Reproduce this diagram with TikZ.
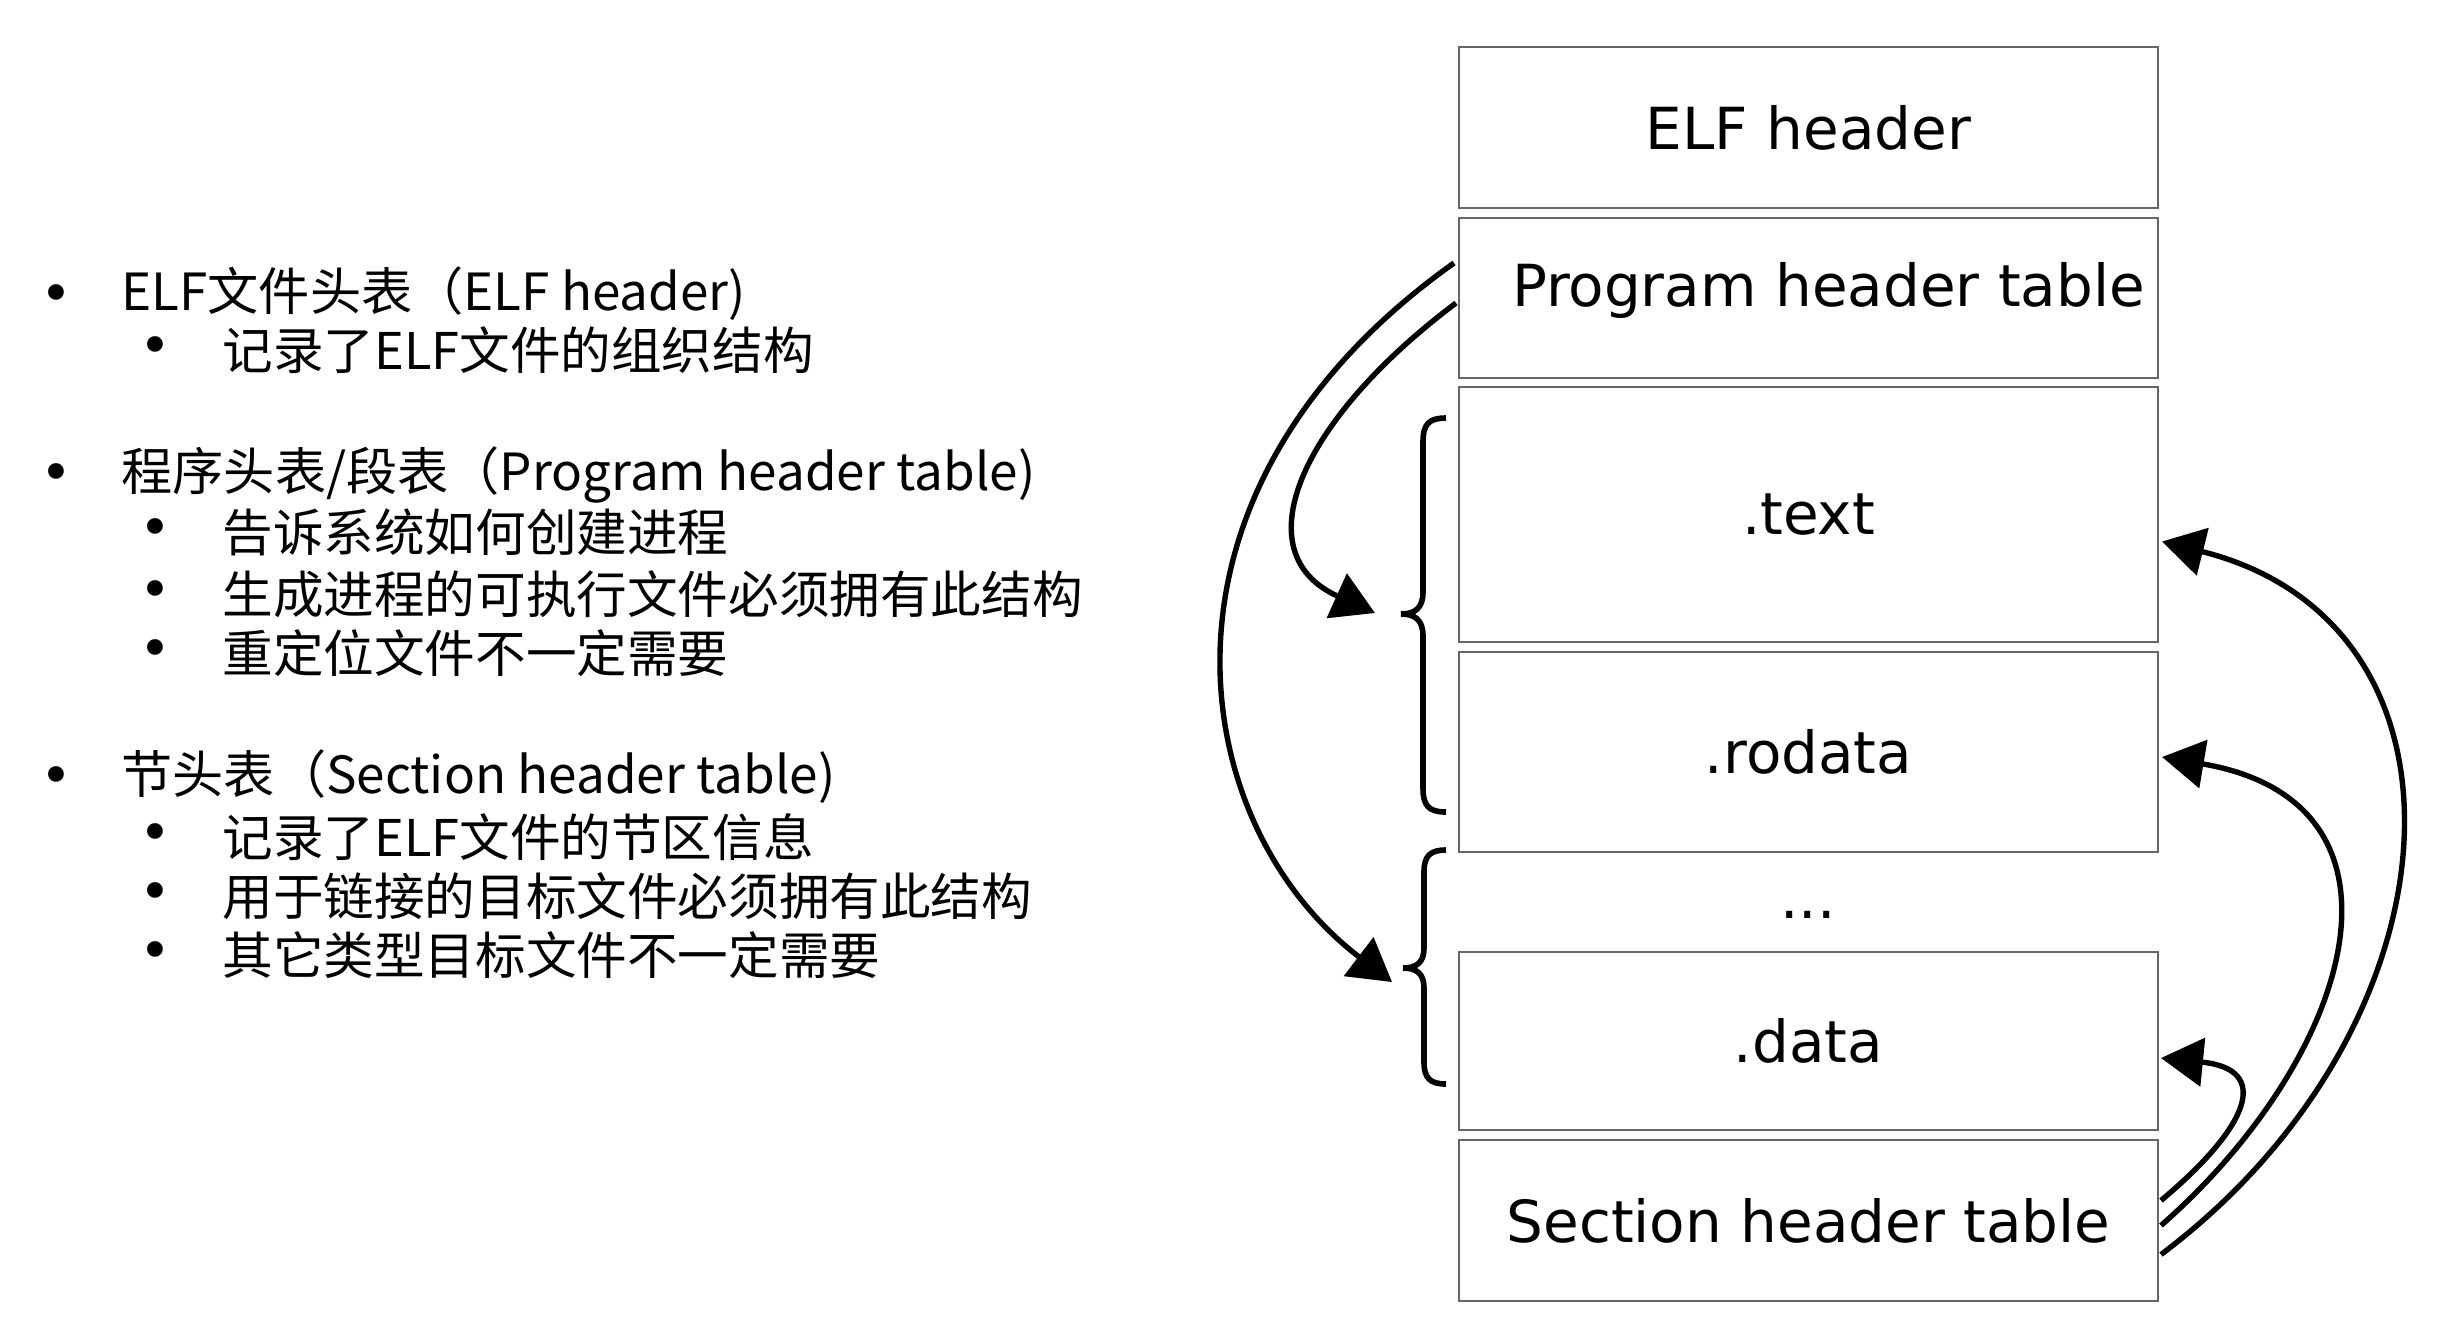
\documentclass[tikz,border=0pt]{standalone}
\usepackage{fontspec}
\newfontfamily\cjk{Noto Sans CJK SC}
\newfontfamily\boxfont{DejaVu Sans}
\usetikzlibrary{arrows.meta,calc}
\begin{document}
\begin{tikzpicture}[x=0.5pt,y=-0.5pt,
  seg/.style={draw=black!60, line width=1pt, minimum width=349.5pt, inner sep=0pt,
    font=\boxfont\fontsize{29pt}{29pt}\selectfont},
  itemone/.style={anchor=base west, inner sep=0pt, font=\cjk\fontsize{25.6pt}{25.6pt}\selectfont},
  itemtwo/.style={anchor=base west, inner sep=0pt, font=\cjk\fontsize{25.3pt}{25.3pt}\selectfont},
  dot/.style={anchor=base, inner sep=0pt, font=\boxfont\fontsize{27pt}{27pt}\selectfont},
  link/.style={line width=2.7pt, -{Triangle[length=21pt,width=24pt]}},
  bracepath/.style={line width=2.8pt}
]
\useasboundingbox (0,0) rectangle (2438,1330);
\fill[white] (0,0) rectangle (2438,1330);

% ---- left list ----
\node[dot] (b1) at (56,312) {•};
\node[itemone] (t1) at (121,310.5) {ELF文件头表（ELF header)};
\node[dot] (b1a) at (155.5,364) {•};
\node[itemtwo] (t1a) at (222,369.5) {记录了ELF文件的组织结构};

\node[dot] (b2) at (56,491) {•};
\node[itemone] (t2) at (121,490.5) {程序头表/段表（Program header table)};
\node[dot] (b2a) at (155.5,546) {•};
\node[itemtwo] (t2a) at (222,551.5) {告诉系统如何创建进程};
\node[dot] (b2b) at (155.5,608) {•};
\node[itemtwo] (t2b) at (222,613.5) {生成进程的可执行文件必须拥有此结构};
\node[dot] (b2c) at (155.5,667) {•};
\node[itemtwo] (t2c) at (222,672.5) {重定位文件不一定需要};

\node[dot] (b3) at (56,794) {•};
\node[itemone] (t3) at (121,793.5) {节头表（Section header table)};
\node[dot] (b3a) at (155.5,851) {•};
\node[itemtwo] (t3a) at (222,856.5) {记录了ELF文件的节区信息};
\node[dot] (b3b) at (155.5,910) {•};
\node[itemtwo] (t3b) at (222,915.5) {用于链接的目标文件必须拥有此结构};
\node[dot] (b3c) at (155.5,969) {•};
\node[itemtwo] (t3c) at (222,974.5) {其它类型目标文件不一定需要};

% ---- ELF layout ----
\node[seg, minimum height=80.5pt] (elf) at (1808.5,127.5) {ELF header};
\node[seg, minimum height=80pt, text height=22pt, text depth=6pt] (pht) at (1808.5,298)
  {\raisebox{4pt}{\hspace*{20pt}Program header table}};
\node[seg, minimum height=127.5pt] (text) at (1808.5,514.5) {.text};
\node[seg, minimum height=100pt] (rodata) at (1808.5,752) {.rodata};
\node[anchor=base, inner sep=0pt, font=\boxfont\fontsize{29pt}{29pt}\selectfont] (dots) at (1808,918) {...};
\node[seg, minimum height=89pt] (data) at (1808.5,1041) {.data};
\node[seg, minimum height=80.5pt] (sht) at (1808.5,1220.5) {Section header table};

% ---- braces ----
\coordinate (braceA) at (1401,614);
\coordinate (braceB) at (1403,968);
\draw[bracepath] (1446,418) .. controls (1429,418) and (1423,424) .. (1423,442)
  -- (1423,592) .. controls (1423,608) and (1415,614) .. (braceA)
  .. controls (1415,614) and (1423,620) .. (1423,636)
  -- (1423,788) .. controls (1423,806) and (1429,812) .. (1446,812);
\draw[bracepath] (1446,850) .. controls (1430,850) and (1424,856) .. (1424,872)
  -- (1424,948) .. controls (1424,962) and (1417,968) .. (braceB)
  .. controls (1417,968) and (1424,974) .. (1424,988)
  -- (1424,1062) .. controls (1424,1078) and (1430,1084) .. (1446,1084);

% ---- arrows from program header table ----
\coordinate (tipA) at ($(braceA)+(-26,-1)$);
\coordinate (tipB) at ($(braceB)+(-11,14)$);
\draw[link] ($(pht.west)+(-2,5)$) .. controls (1300,420) and (1242,553) .. (tipA);
\draw[link] ($(pht.west)+(-4,-35)$) .. controls (1130,493) and (1186,825) .. (tipB);

% ---- arrows from section header table ----
\draw[link] ($(sht.east)+(2,34)$) .. controls (2465,1026) and (2491,624) .. ($(text.east)+(3,27)$);
\draw[link] ($(sht.east)+(2,5)$) .. controls (2356,1054) and (2427,802) .. ($(rodata.east)+(3,5)$);
\draw[link] ($(sht.east)+(2,-20)$) .. controls (2251,1125) and (2271,1069) .. ($(data.east)+(2,17)$);
\end{tikzpicture}
\end{document}
